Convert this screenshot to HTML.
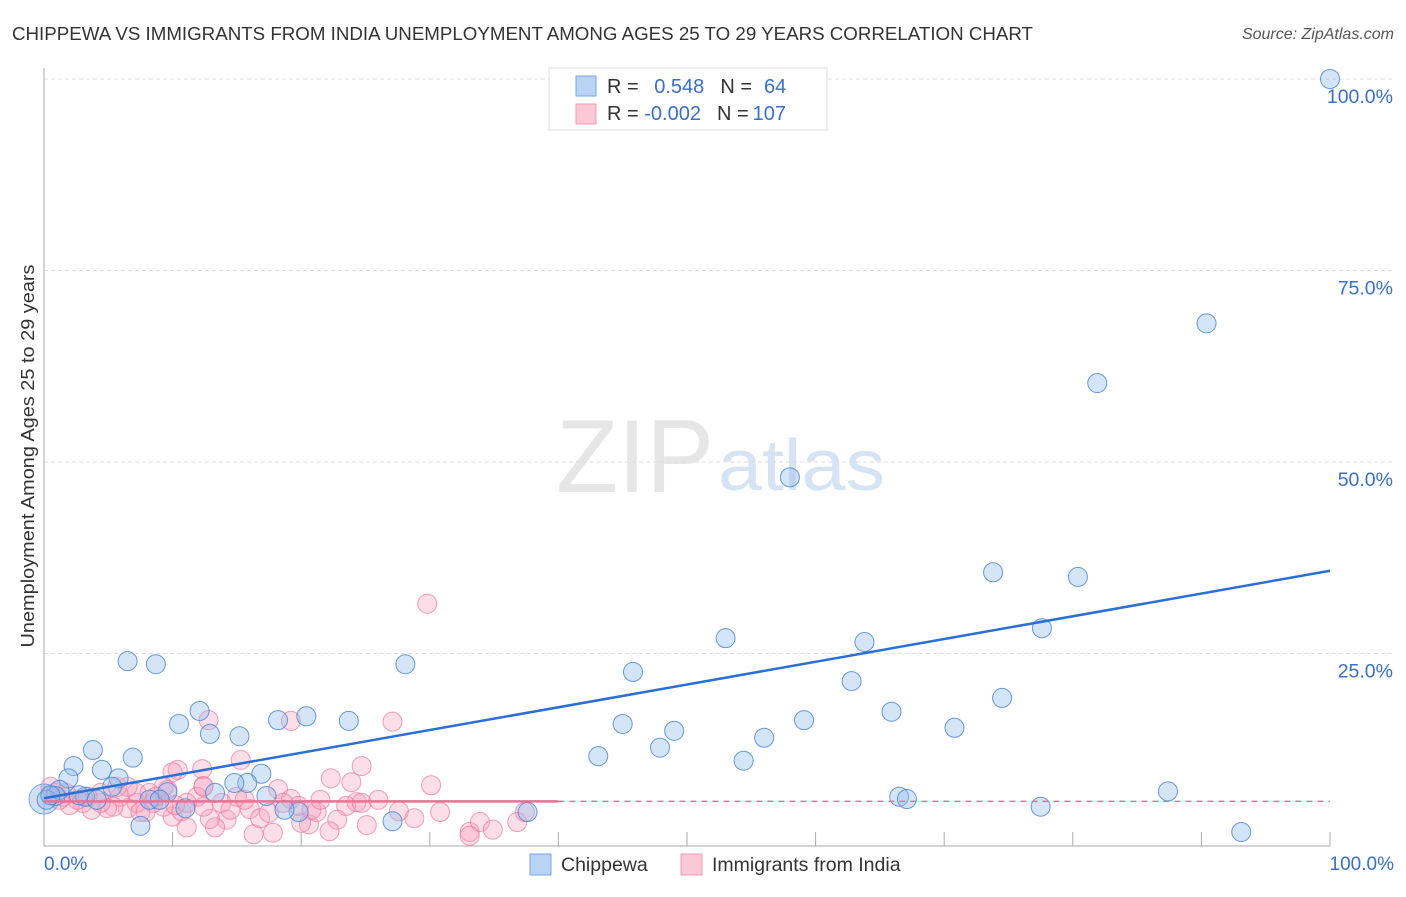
<!DOCTYPE html>
<html><head><meta charset="utf-8"><style>
body{margin:0;background:#fff;font-family:"Liberation Sans",sans-serif;}
svg text{font-family:"Liberation Sans",sans-serif;}
</style></head><body>
<svg id="chart" width="1406" height="892" xmlns="http://www.w3.org/2000/svg">
<text x="12" y="40" font-size="18.5" fill="#333" textLength="1021" lengthAdjust="spacingAndGlyphs">CHIPPEWA VS IMMIGRANTS FROM INDIA UNEMPLOYMENT AMONG AGES 25 TO 29 YEARS CORRELATION CHART</text>
<text x="1394" y="39" font-size="16" fill="#555" font-style="italic" text-anchor="end">Source: ZipAtlas.com</text>
<text x="714" y="492" font-size="104" fill="#e6e6e6" text-anchor="end" font-family="Liberation Serif" textLength="158" lengthAdjust="spacingAndGlyphs">ZIP</text>
<text x="718" y="490" font-size="72" fill="#d5e3f5" textLength="167" lengthAdjust="spacingAndGlyphs">atlas</text>
<g id="grid"></g><g id="axes"></g><g id="pink"></g><g id="blue"></g><g id="trend"></g>
<text transform="translate(34,456) rotate(-90)" font-size="18.5" fill="#333" text-anchor="middle" textLength="383" lengthAdjust="spacingAndGlyphs">Unemployment Among Ages 25 to 29 years</text>
<text x="44" y="870" font-size="19" fill="#3b6fc4">0.0%</text>
<text x="1394" y="870" font-size="19" fill="#3b6fc4" text-anchor="end">100.0%</text>
<g>
<rect x="549" y="68" width="278" height="62" fill="#fff" stroke="#ddd"/>
<rect x="576" y="76" width="20" height="20" fill="#b8d3f4" stroke="#7aa7e2"/>
<rect x="576" y="104" width="20" height="20" fill="#fbc8d7" stroke="#f09ab4"/>
<text x="607" y="93" font-size="20" fill="#333">R = <tspan fill="#3b6fc4" dx="10">0.548</tspan><tspan dx="16" fill="#333">N =</tspan><tspan dx="12" fill="#3b6fc4">64</tspan></text>
<text x="607" y="120" font-size="20" fill="#333">R = <tspan fill="#3b6fc4">-0.002</tspan><tspan dx="16" fill="#333">N =</tspan><tspan dx="4" fill="#3b6fc4">107</tspan></text>
</g>
<g><rect x="530" y="854" width="21" height="21" fill="#b8d3f4" stroke="#7aa7e2"/><text x="561" y="871" font-size="19.5" fill="#333">Chippewa</text></g>
<g><rect x="681" y="854" width="21" height="21" fill="#fbc8d7" stroke="#f09ab4"/><text x="712" y="871" font-size="19.5" fill="#333">Immigrants from India</text></g>
</svg>
<script>
const yTicks=[25,50,75,100];
const yTickLabels=["25.0%","50.0%","75.0%","100.0%"];
const xTicks=[10,20,30,40,50,60,70,80,90,100];
const blueX=[100,90.4,81.9,58.0,73.8,80.4,77.6,53.0,63.8,45.8,28.1,6.5,8.7,62.8,74.5,65.9,12.1,10.5,18.2,20.4,23.7,45.0,70.8,12.9,15.2,49.0,59.1,56.0,3.8,47.9,6.9,43.1,54.4,2.3,4.5,1.9,5.8,16.9,15.8,14.8,66.5,67.1,87.4,77.5,93.1,7.5,27.1,37.6,19.8,18.7,11.0,9.6,1.2,0.9,3.2,5.3,8.2,17.3,13.3,9.0,0.2,0.5,2.7,4.1];
const blueY=[100,68.1,60.3,48.0,35.6,35.0,28.3,27.0,26.5,22.6,23.6,24.0,23.6,21.4,19.2,17.4,17.5,15.8,16.3,16.8,16.2,15.8,15.3,14.5,14.2,14.9,16.3,14.0,12.4,12.7,11.4,11.6,11.0,10.3,9.8,8.7,8.7,9.3,8.1,8.1,6.3,6.0,7.0,5.0,1.7,2.5,3.1,4.3,4.3,4.6,4.8,6.9,7.2,6.4,6.3,7.6,5.9,6.4,6.8,5.9,5.9,6.5,6.5,5.9];
const pinkX=[29.8,12.8,19.2,27.1,15.3,10.4,12.3,10.0,24.7,22.3,23.9,30.1,18.2,12.4,23.5,24.3,22.8,25.1,27.6,28.8,22.2,20.6,20.0,21.2,19.2,17.8,16.3,14.2,13.3,12.9,13.8,15.0,16.0,16.8,17.5,11.1,10.0,10.7,9.3,12.4,11.9,11.1,9.6,8.5,7.9,7.2,6.5,5.9,5.4,4.9,4.4,3.7,3.0,2.6,2.0,1.5,0.9,0.5,7.2,6.5,8.2,9.3,5.7,4.4,12.4,33.1,33.9,34.9,36.8,37.4,24.7,26.0,19.8,20.8,30.8,33.1,1.2,1.7,3.4,7.5,10.2,14.5,15.6,18.6,21.5,8.7];
const pinkY=[31.5,16.3,16.2,16.1,11.1,9.8,9.9,9.5,10.3,8.7,8.2,7.8,7.3,7.7,5.1,5.6,3.3,2.6,4.4,3.5,1.8,2.7,2.9,4.3,6.0,1.6,1.4,3.3,2.3,3.4,5.5,6.3,4.7,3.5,4.2,2.3,3.7,4.4,5.0,5.0,6.3,5.5,7.2,5.5,4.3,5.5,4.8,6.3,5.0,4.8,5.5,4.6,5.5,5.9,5.2,6.3,6.8,7.6,6.8,7.6,6.8,7.6,7.6,6.8,7.6,1.7,3.0,2.0,3.0,4.3,5.5,5.9,5.1,4.6,4.3,1.2,5.9,6.8,6.3,4.3,5.2,4.6,5.9,5.5,5.9,6.3];
const blueTrend=[6.1,35.8];
const pinkTrend=[5.7,5.7];
const pinkSolidEnd=40;
const NS="http://www.w3.org/2000/svg";
const X0=44,X1=1330,Y0=845,Y1=79;
const sx=v=>X0+(X1-X0)*v/100, sy=v=>Y0-(Y0-Y1)*v/100;
function mk(t,a,p){const e=document.createElementNS(NS,t);for(const k in a)e.setAttribute(k,a[k]);p.appendChild(e);return e;}
const grid=document.getElementById('grid'),axes=document.getElementById('axes');
yTicks.forEach((t,i)=>{
 const l=mk('line',{x1:X0,x2:1395,y1:sy(t),y2:sy(t),stroke:'#ddd','stroke-dasharray':'4,3'},grid);
 
 
 const tx=mk('text',{x:1393,y:sy(t)+24,'font-size':19.5,fill:'#3b6fc4','text-anchor':'end'},grid);
 tx.textContent=yTickLabels[i];
 
 
});
let a=mk('line',{x1:X0,x2:X0,y1:68,y2:Y0+1,stroke:'#aaa'},axes);


a=mk('line',{x1:X0,x2:X1,y1:Y0+1,y2:Y0+1,stroke:'#aaa'},axes);


xTicks.forEach(t=>{const l=mk('line',{x1:sx(t),x2:sx(t),y1:Y0-13,y2:Y0+1,stroke:'#aaa'},axes);
 
 });
const pg=document.getElementById('pink'),bg=document.getElementById('blue');
let c=mk('circle',{cx:sx(0),cy:sy(6),r:15,fill:'rgba(120,165,225,0.35)',stroke:'#7aa7e2'},bg);


pinkX.forEach((x,i)=>{const e=mk('circle',{cx:sx(x),cy:sy(pinkY[i]),r:9.5,fill:'rgba(246,160,188,0.35)',stroke:'rgba(236,120,155,0.7)'},pg);
 
 });
blueX.forEach((x,i)=>{const e=mk('circle',{cx:sx(x),cy:sy(blueY[i]),r:9.5,fill:'rgba(150,190,238,0.4)',stroke:'rgba(70,130,210,0.8)'},bg);
 
 });
const tg=document.getElementById('trend');
let t=mk('line',{x1:sx(0),y1:sy(blueTrend[0]),x2:sx(100),y2:sy(blueTrend[1]),stroke:'#2a6fd6','stroke-width':2.5},tg);


const pAt=x=>pinkTrend[0]+(pinkTrend[1]-pinkTrend[0])*x/100;
t=mk('line',{x1:sx(0),y1:sy(pAt(0)),x2:sx(pinkSolidEnd),y2:sy(pAt(pinkSolidEnd)),stroke:'#ec6f96','stroke-width':2.5},tg);


t=mk('line',{x1:sx(pinkSolidEnd),y1:sy(pAt(pinkSolidEnd)),x2:sx(100),y2:sy(pAt(100)),stroke:'#ec6f96','stroke-width':1.5,'stroke-dasharray':'6,5'},tg);


</script>
</body></html>
